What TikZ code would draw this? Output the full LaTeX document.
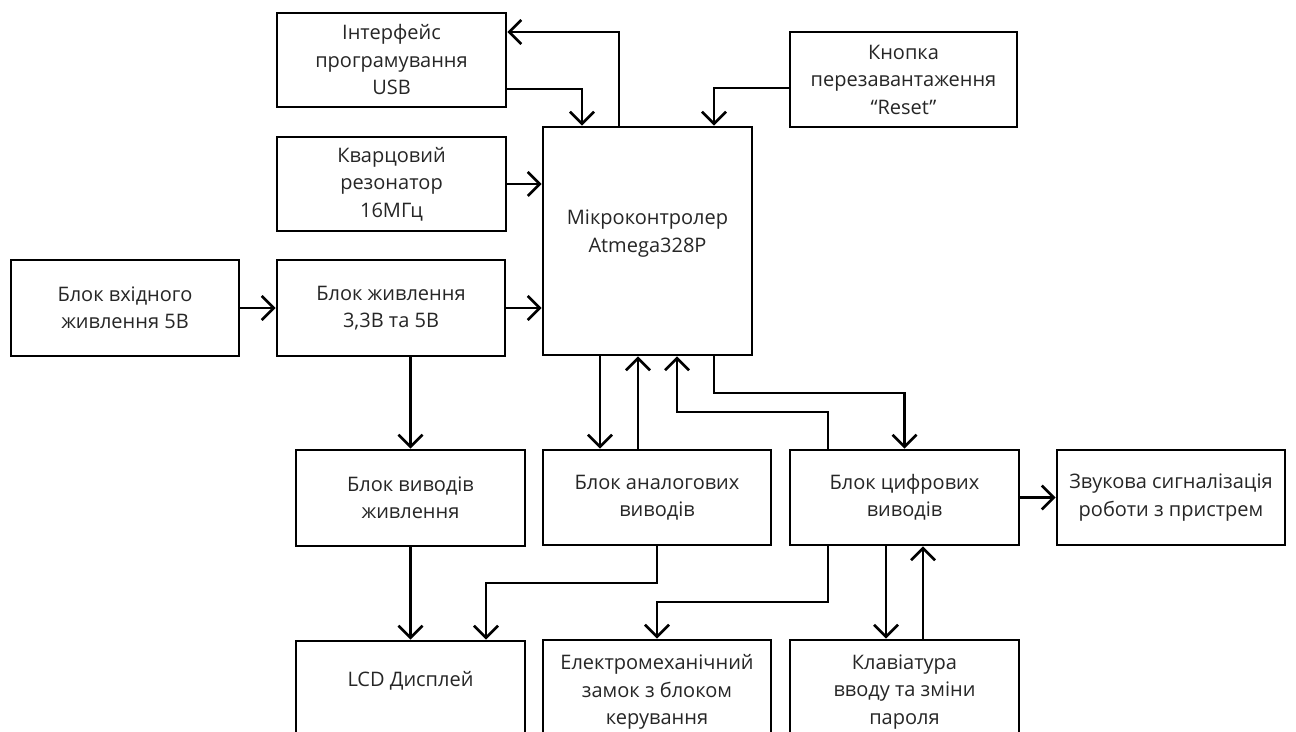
\documentclass[tikz,border=0pt]{standalone}
\usepackage{fontspec}
\setmainfont{Open Sans}
\usetikzlibrary{arrows.meta,calc}
\begin{document}
\begin{tikzpicture}[x=0.5pt,y=-0.5pt,
  box/.style={draw, line width=1.35pt, align=center, inner sep=0pt, font=\fontsize{10}{13.75}\selectfont, text=black!85},
  arr/.style={line width=1.35pt, -{Straight Barb[length=6pt,width=12pt]}}]
\clip (0,0) rectangle (1296,732);
\fill[white] (0,0) rectangle (1296,732);
% boxes
\node[box, minimum width=114.5pt, minimum height=47pt] (usb) at (391.5,60) {Інтерфейс\\програмування\\USB};
\node[box, minimum width=114.5pt, minimum height=47pt] (quartz) at (391.5,184) {Кварцовий\\резонатор\\16МГц};
\node[box, minimum width=104.5pt, minimum height=114pt] (mcu) at (647.5,241) {Мікроконтролер\\Atmega328P\\[-4pt]};
\node[box, minimum width=113.5pt, minimum height=47.5pt] (reset) at (903.5,79.5) {Кнопка\\перезавантаження\\“Reset”};
\node[box, minimum width=114pt, minimum height=48pt] (inpow) at (125,308) {Блок вхідного\\живлення 5В};
\node[box, minimum width=114pt, minimum height=48pt] (power) at (391,308) {Блок живлення\\3,3В та 5В};
\node[box, minimum width=114.5pt, minimum height=48pt] (pout) at (410.5,498) {Блок виводів\\живлення};
\node[box, minimum width=114pt, minimum height=47.5pt] (analog) at (657,497.5) {Блок аналогових\\виводів};
\node[box, minimum width=114.5pt, minimum height=47.5pt] (digital) at (904.5,497.5) {Блок цифрових\\виводів};
\node[box, minimum width=114pt, minimum height=47.5pt] (sound) at (1171,497.5) {Звукова сигналізація\\роботи з пристрем};
\node[box, minimum width=114.5pt, minimum height=52pt] (lcd) at (410.5,693) {LCD Дисплей\\ \mbox{}};
\node[box, minimum width=114pt, minimum height=52pt] (lock) at (657,692) {Електромеханічний\\замок з блоком\\керування};
\node[box, minimum width=114.5pt, minimum height=52pt] (keyb) at (904.5,692) {Клавіатура\\вводу та зміни\\пароля};
% connectors
\draw[arr] (inpow.east) -- (power.west);
\draw[arr] (power.east) -- (power.east -| mcu.west);
\draw[arr] (quartz.east) -- (quartz.east -| mcu.west);
\draw[arr] (usb.east |- 0,89) -| (mcu.north -| 582,0);
\draw[arr] (mcu.north -| 619,0) |- (usb.east |- 0,32);
\draw[arr] (reset.west |- 0,88) -| (mcu.north -| 714,0);
\draw[arr] (power.south -| pout.north) -- (pout.north);
\draw[arr] (mcu.south -| 600,0) -- (analog.north -| 600,0);
\draw[arr] (analog.north -| 638,0) -- (mcu.south -| 638,0);
\draw[arr] (digital.north -| 828,0) |- (677,412) -- (mcu.south -| 677,0);
\draw[arr] (mcu.south -| 714,0) |- (digital.north |- 0,393) -- (digital.north);
\draw[arr] (digital.east) -- (sound.west);
\draw[arr] (analog.south) |- (486,583) -- (lcd.north -| 486,0);
\draw[arr] (pout.south) -- (lcd.north);
\draw[arr] (digital.south -| 828,0) |- (lock.north |- 0,602) -- (lock.north);
\draw[arr] (digital.south -| 886,0) -- (keyb.north -| 886,0);
\draw[arr] (keyb.north -| 923,0) -- (digital.south -| 923,0);
\end{tikzpicture}
\end{document}
